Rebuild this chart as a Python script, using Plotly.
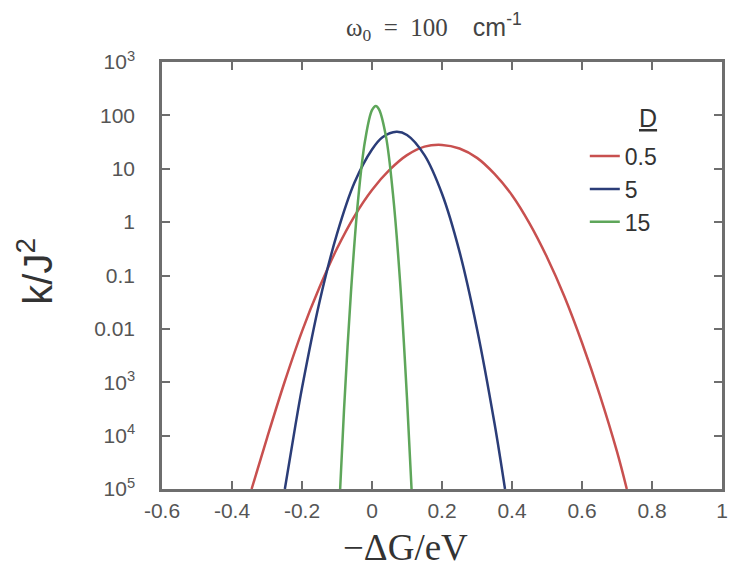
import plotly.graph_objects as go

# { data (x = -dG in eV, y = k/J^2)
red_x = [-0.344, -0.30, -0.25, -0.20, -0.15, -0.10, -0.05, 0.0, 0.05, 0.10, 0.15, 0.20,
         0.25, 0.30, 0.35, 0.40, 0.45, 0.50, 0.55, 0.60, 0.65, 0.70, 0.728]
red_y = [1e-5, 9e-5, 1e-3, 9e-3, 0.06, 0.32, 1.3, 4.0, 9.5, 18, 26, 28,
         24, 16, 8.0, 3.2, 0.95, 0.22, 0.04, 5.5e-3, 6e-4, 5e-5, 1e-5]

blue_x = [-0.249, -0.22, -0.20, -0.15, -0.10, -0.05, 0.0, 0.03, 0.07, 0.10, 0.15,
          0.20, 0.25, 0.30, 0.35, 0.38]
blue_y = [1e-5, 1.4e-4, 7.8e-4, 0.032, 0.6, 5.5, 23, 39, 49.5, 43, 18,
          3.4, 0.28, 0.01, 1.7e-4, 1e-5]

green_x = [-0.091, -0.08, -0.06, -0.04, -0.02, 0.0, 0.011, 0.02, 0.04, 0.06, 0.08, 0.10, 0.113]
green_y = [1e-5, 3e-4, 0.05, 2.5, 33, 125, 150, 130, 40, 3.3, 0.08, 5e-4, 1e-5]

x_ticks = [-0.6, -0.4, -0.2, 0, 0.2, 0.4, 0.6, 0.8, 1]
x_labels = ['-0.6', '-0.4', '-0.2', '0', '0.2', '0.4', '0.6', '0.8', '1']
y_ticks = [1e3, 1e2, 1e1, 1, 0.1, 0.01, 1e-3, 1e-4, 1e-5]
y_labels = ['10<sup>3</sup>', '100', '10', '1', '0.1', '0.01',
            '10<sup>3</sup>', '10<sup>4</sup>', '10<sup>5</sup>']
# }

axis_col = '#6e6e6e'
sans = 'Liberation Sans, Arial'
serif = 'Liberation Serif, Times New Roman'

fig = go.Figure()

fig.add_trace(go.Scatter(x=red_x, y=red_y, mode='lines', name='0.5',
                         line=dict(color='#c8504f', width=2.5, shape='spline')))
fig.add_trace(go.Scatter(x=blue_x, y=blue_y, mode='lines', name='5',
                         line=dict(color='#2b3d78', width=2.5, shape='spline')))
fig.add_trace(go.Scatter(x=green_x, y=green_y, mode='lines', name='15',
                         line=dict(color='#5ea65a', width=2.5, shape='spline')))

fig.update_xaxes(range=[-0.6, 1], tickvals=x_ticks, ticktext=x_labels,
                 showline=True, linecolor=axis_col, linewidth=2.5, mirror='ticks',
                 ticks='inside', ticklen=8, tickwidth=1.5, tickcolor=axis_col,
                 showgrid=False, zeroline=False, ticklabelstandoff=1,
                 tickfont=dict(family=sans, size=21, color='#555555'))
fig.update_yaxes(type='log', range=[-5, 3], tickvals=y_ticks, ticktext=y_labels,
                 showline=True, linecolor=axis_col, linewidth=2.5, mirror='ticks',
                 ticks='inside', ticklen=8, tickwidth=1.5, tickcolor=axis_col,
                 showgrid=False, zeroline=False, ticklabelstandoff=20,
                 tickfont=dict(family=sans, size=21, color='#555555'))

# axis titles, plot title and legend heading
fig.add_annotation(text='k/J<sup>2</sup>', xref='paper', yref='paper',
                   x=-0.226, y=0.51, xanchor='center', yanchor='middle',
                   textangle=-90, showarrow=False,
                   font=dict(family=sans, size=40, color='#333333'))
fig.add_annotation(text='\u2212\u0394G/eV', xref='paper', yref='paper',
                   x=0.434, y=-0.138, xanchor='center', yanchor='middle', showarrow=False,
                   font=dict(family=serif, size=37, color='#333333'))
fig.add_annotation(text='\u03c9<sub>0</sub>\u00a0\u00a0=\u00a0\u00a0100\u00a0\u00a0\u00a0\u00a0'
                        '<span style="font-family:Liberation Sans">cm<sup>-1</sup></span>',
                   xref='paper', yref='paper', x=0.485, y=1.082,
                   xanchor='center', yanchor='middle', showarrow=False,
                   font=dict(family=serif, size=25, color='#444444'))
fig.add_annotation(text='<u>D</u>', xref='paper', yref='paper',
                   x=0.868, y=0.87, xanchor='center', yanchor='middle', showarrow=False,
                   font=dict(family=sans, size=25, color='#333333'))

fig.update_layout(width=734, height=565,
                  margin=dict(l=154, r=20, t=54, b=84),
                  plot_bgcolor='white', paper_bgcolor='white',
                  showlegend=True,
                  legend=dict(x=0.755, y=0.83, xanchor='left', yanchor='top',
                              bgcolor='rgba(0,0,0,0)', tracegroupgap=0,
                              font=dict(family=sans, size=23, color='#333333')))

fig.write_html("out.html")
